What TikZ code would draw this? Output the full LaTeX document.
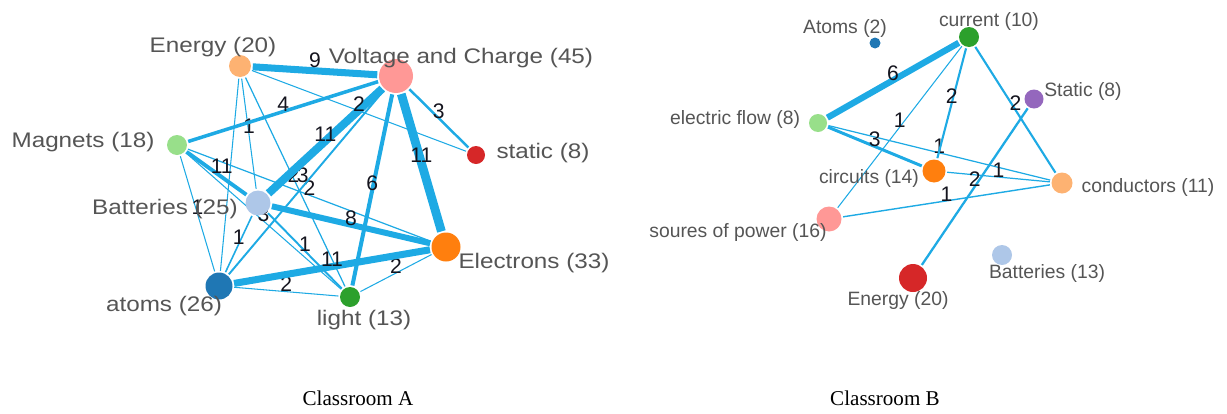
\documentclass[tikz,border=0pt]{standalone}
\usepackage{fontspec}
\setmainfont{Liberation Serif}
\newfontfamily\lblfontA[FakeStretch=1.15]{Liberation Sans}
\newfontfamily\lblfontB{Liberation Sans}
\usetikzlibrary{backgrounds}

\definecolor{linkblue}{RGB}{30,170,228}
\definecolor{lblgray}{RGB}{85,85,85}
\definecolor{wtdark}{RGB}{20,20,30}
\definecolor{cblue}{HTML}{1F77B4}
\definecolor{clblue}{HTML}{AEC7E8}
\definecolor{corange}{HTML}{FF7F0E}
\definecolor{clorange}{HTML}{FDB272}
\definecolor{cgreen}{HTML}{2CA02C}
\definecolor{clgreen}{HTML}{98DF8A}
\definecolor{cred}{HTML}{D62728}
\definecolor{cpink}{HTML}{FF9896}
\definecolor{cpurple}{HTML}{9467BD}

\begin{document}
\begin{tikzpicture}[x=0.02cm, y=-0.02cm,
  vertex/.style={circle, inner sep=0pt, outer sep=1pt},
  link/.style={draw=linkblue},
  wt/.style={text=wtdark, font=\lblfontB\fontsize{12}{14}\selectfont, inner sep=0pt, yshift=4pt},
  lblA/.style={text=lblgray, font=\lblfontA\fontsize{12}{14}\selectfont, inner sep=0pt},
  lblB/.style={text=lblgray, font=\lblfontB\fontsize{11}{13}\selectfont, inner sep=0pt}]
  \useasboundingbox (0,0) rectangle (1227,413);

  % Classroom A
  \node (enA) [vertex, fill=clorange, minimum size=0.44cm] at (240,66) {};
  \node (voA) [vertex, fill=cpink, minimum size=0.68cm] at (396,76) {};
  \node (stA) [vertex, fill=cred, minimum size=0.36cm] at (476,155) {};
  \node (maA) [vertex, fill=clgreen, minimum size=0.4cm] at (177,145) {};
  \node (baA) [vertex, fill=clblue, minimum size=0.5cm] at (258,203) {};
  \node (atA) [vertex, fill=cblue, minimum size=0.54cm] at (219,286) {};
  \node (liA) [vertex, fill=cgreen, minimum size=0.4cm] at (350,297) {};
  \node (elA) [vertex, fill=corange, minimum size=0.58cm] at (446,247) {};

  \node (enAl) [lblA] at (213,47) {Energy (20)};
  \node (voAl) [lblA] at (461,58) {Voltage and Charge (45)};
  \node (stAl) [lblA] at (543,153) {static (8)};
  \node (maAl) [lblA] at (83,142) {Magnets (18)};
  \node (baAl) [lblA] at (165,209) {Batteries (25)};
  \node (atAl) [lblA] at (164,306) {atoms (26)};
  \node (liAl) [lblA] at (364,320) {light (13)};
  \node (elAl) [lblA] at (534,263) {Electrons (33)};

  \begin{scope}[on background layer]
    \draw[link, line width=0.6pt] (enA) -- (atA);
    \draw[link, line width=0.6pt] (enA) -- node[wt] {1} (baA);
    \draw[link, line width=0.7pt] (enA) -- node[wt, xshift=-1pt] {2} (liA);
    \draw[link, line width=0.6pt] (maA) -- node[wt] {1} (atA);
    \draw[link, line width=0.7pt] (maA) -- node[wt] {2} (elA);
    \draw[link, line width=0.6pt] (maA) -- node[wt] {3} (liA);
    \draw[link, line width=0.6pt] (atA) -- node[wt] {2} (liA);
    \draw[link, line width=0.6pt] (liA) -- node[wt] {2} (elA);
    \draw[link, line width=0.9pt] (baA) -- node[wt] {1} (atA);
    \draw[link, line width=1.1pt] (baA) -- node[wt] {1} (liA);
    \draw[link, line width=1.1pt] (voA) -- node[wt, xshift=-2pt] {3} (atA);
    \draw[link, line width=1.4pt] (voA) -- node[wt] {3} (stA);
    \draw[link, line width=2pt] (maA) -- node[wt] {4} (voA);
    \draw[link, line width=2.2pt] (maA) -- node[wt, xshift=3pt] {11} (baA);
    \draw[link, line width=2.3pt] (voA) -- node[wt] {6} (liA);
    \draw[link, line width=3.4pt] (baA) -- node[wt] {8} (elA);
    \draw[link, line width=4pt] (atA) -- node[wt] {11} (elA);
    \draw[link, line width=4pt] (enA) -- node[wt, yshift=2pt] {9} (voA);
    \draw[link, line width=4.6pt] (voA) -- node[wt] {11} (baA);
    \draw[link, line width=5pt] (voA) -- node[wt] {11} (elA);
    \draw[link, line width=0.6pt] (enA) -- node[wt] {2} (stA);
  \end{scope}

  % Classroom B
  \node (atB) [vertex, fill=cblue, minimum size=0.22cm] at (875,43) {};
  \node (cuB) [vertex, fill=cgreen, minimum size=0.4cm] at (969,37) {};
  \node (stB) [vertex, fill=cpurple, minimum size=0.38cm] at (1034,99) {};
  \node (efB) [vertex, fill=clgreen, minimum size=0.36cm] at (818,123) {};
  \node (ciB) [vertex, fill=corange, minimum size=0.46cm] at (934,171) {};
  \node (coB) [vertex, fill=clorange, minimum size=0.42cm] at (1062,183) {};
  \node (soB) [vertex, fill=cpink, minimum size=0.5cm] at (829,219) {};
  \node (enB) [vertex, fill=cred, minimum size=0.56cm] at (913,278) {};
  \node (baB) [vertex, fill=clblue, minimum size=0.4cm] at (1002,255) {};

  \node (atBl) [lblB] at (845,28) {Atoms (2)};
  \node (cuBl) [lblB] at (989,21) {current (10)};
  \node (stBl) [lblB] at (1083,91) {Static (8)};
  \node (efBl) [lblB] at (735,119) {electric flow (8)};
  \node (ciBl) [lblB] at (869,178) {circuits (14)};
  \node (coBl) [lblB] at (1148,187) {conductors (11)};
  \node (soBl) [lblB] at (738,232) {soures of power (16)};
  \node (enBl) [lblB] at (898,300) {Energy (20)};
  \node (baBl) [lblB] at (1047,273) {Batteries (13)};

  \begin{scope}[on background layer]
    \draw[link, line width=0.7pt] (efB) -- node[wt] {1} (coB);
    \draw[link, line width=0.6pt] (cuB) -- node[wt] {1} (soB);
    \draw[link, line width=0.7pt] (ciB) -- node[wt] {1} (coB);
    \draw[link, line width=0.8pt] (soB) -- node[wt] {1} (coB);
    \draw[link, line width=1.2pt] (cuB) -- node[wt] {2} (ciB);
    \draw[link, line width=1.2pt] (cuB) -- node[wt] {2} (coB);
    \draw[link, line width=1.3pt] (stB) -- node[wt] {2} (enB);
    \draw[link, line width=1.7pt] (efB) -- node[wt] {3} (ciB);
    \draw[link, line width=3.6pt] (efB) -- node[wt] {6} (cuB);
  \end{scope}

  \node (capA) [font=\fontsize{12}{14}\selectfont] at (358,398) {Classroom A};
  \node (capB) [font=\fontsize{12}{14}\selectfont] at (885,398) {Classroom B};
\end{tikzpicture}
\end{document}
